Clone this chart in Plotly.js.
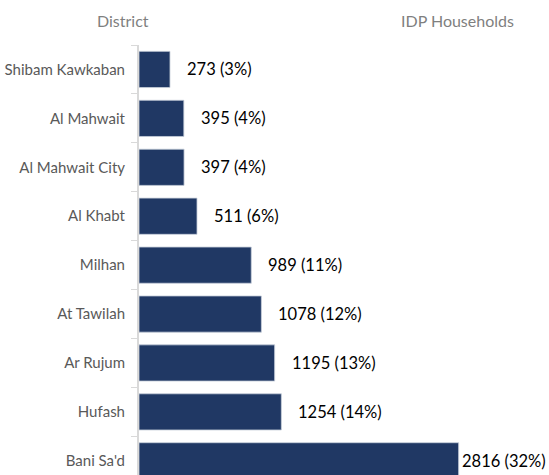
<!DOCTYPE html>
<html>
<head>
<meta charset="utf-8">
<script src="https://cdn.plot.ly/plotly-3.0.1.min.js"></script>
<style>
  html, body { margin: 0; padding: 0; background: #ffffff; }
  #chart { width: 549px; height: 475px; }
</style>
</head>
<body>
<div id="chart"></div>
<script>
// IDP households by district
const districts = ["Shibam Kawkaban", "Al Mahwait", "Al Mahwait City", "Al Khabt",
                   "Milhan", "At Tawilah", "Ar Rujum", "Hufash", "Bani Sa'd"];
const households = [273, 395, 397, 511, 989, 1078, 1195, 1254, 2816];
const sharePct = [3, 4, 4, 6, 11, 12, 13, 14, 32];

const labels = households.map((v, i) => v + " (" + sharePct[i] + "%)");

const barTrace = {
  type: "bar",
  orientation: "h",
  y: districts,
  x: households,
  marker: { color: "#203864", line: { color: "#c8cfdb", width: 0.8 } },
  hoverinfo: "skip"
};

// value labels sit to the right of each bar; the longest one hugs its bar
const valueNotes = households.map((v, i) => ({
  x: v,
  y: districts[i],
  xref: "x",
  yref: "y",
  text: labels[i],
  showarrow: false,
  xanchor: "left",
  yanchor: "middle",
  xshift: i === households.length - 1 ? 1 : 15,
  font: { family: "Lato, 'Open Sans', sans-serif", size: 16.5, color: "#000000" }
}));

const headerNotes = [
  { text: "District", x: 123 },
  { text: "IDP Households", x: 457 }
].map(h => ({
  text: h.text,
  xref: "paper",
  yref: "paper",
  x: (h.x - 139) / 410,
  y: (475 - 21) / 430,
  xanchor: "center",
  yanchor: "middle",
  showarrow: false,
  font: { family: "Lato, 'Open Sans', sans-serif", size: 16, color: "#7f7f7f" }
}));

const layout = {
  width: 549,
  height: 475,
  margin: { l: 139, r: 0, t: 45, b: 0, pad: 0 },
  paper_bgcolor: "#ffffff",
  plot_bgcolor: "#ffffff",
  bargap: 0.26,
  showlegend: false,
  xaxis: {
    range: [0, 3612],
    visible: false,
    fixedrange: true
  },
  yaxis: {
    type: "category",
    categoryorder: "array",
    categoryarray: districts,
    range: [8.29, -0.5],
    showline: true,
    linecolor: "#d9d9d9",
    linewidth: 2,
    ticks: "outside",
    tickson: "boundaries",
    ticklen: 6,
    tickwidth: 1,
    tickcolor: "#d9d9d9",
    ticklabelstandoff: 9,
    showgrid: false,
    zeroline: false,
    tickfont: { family: "Lato, 'Open Sans', sans-serif", size: 15, color: "#595959" },
    fixedrange: true
  },
  annotations: valueNotes.concat(headerNotes)
};

Plotly.newPlot("chart", [barTrace], layout, { displayModeBar: false, staticPlot: true });
</script>
</body>
</html>
